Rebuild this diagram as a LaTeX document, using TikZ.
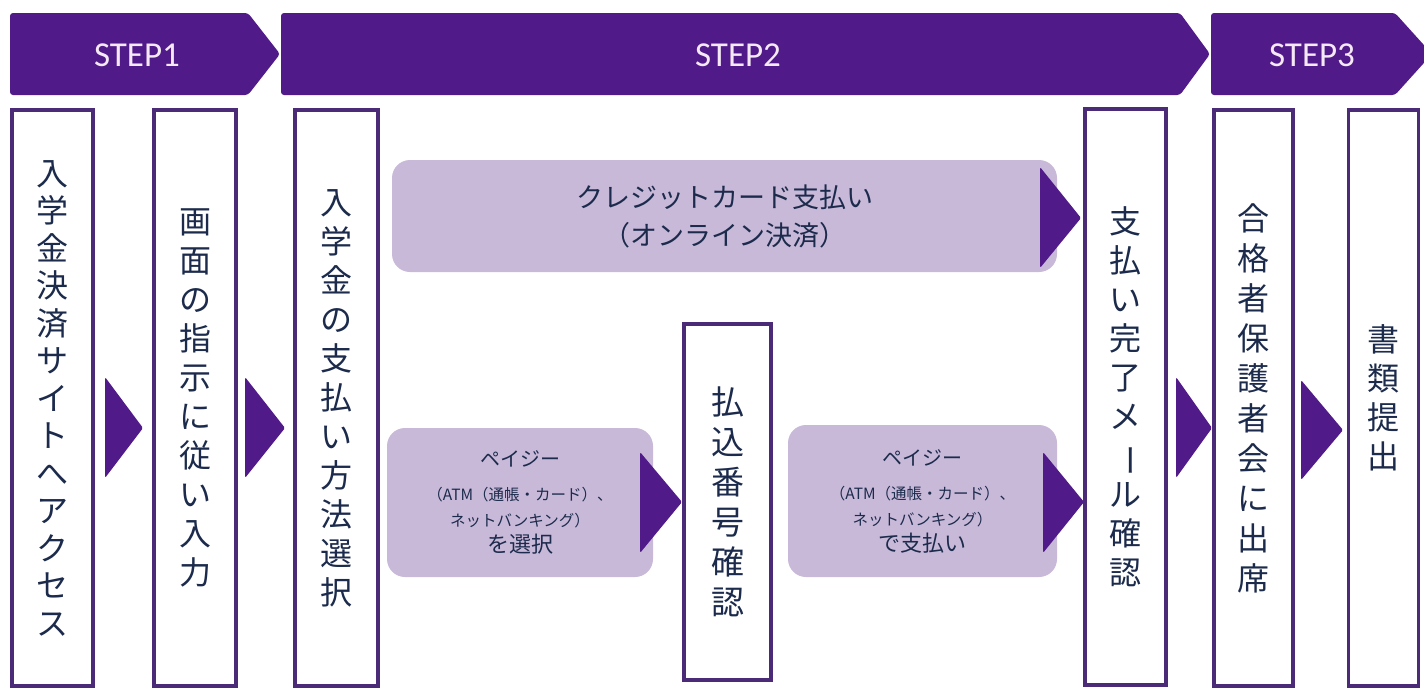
\documentclass[tikz,border=0pt]{standalone}
\usepackage{fontspec}
\usepackage{graphicx}
\setmainfont{Carlito}
\newfontfamily\jpfont{Noto Sans CJK JP}

\definecolor{bandpurple}{HTML}{501A88}
\definecolor{framepurple}{HTML}{4B2A78}
\definecolor{lavender}{HTML}{C9B9D9}
\definecolor{inknavy}{HTML}{1C2B4C}
\definecolor{steptext}{HTML}{F6E9F6}

\newcommand{\longbar}{\rotatebox[origin=c]{-90}{ー}}

\tikzset{
  stepband/.style={fill=bandpurple, rounded corners=3pt},
  steplabel/.style={text=steptext, inner sep=0pt, font=\fontsize{35}{40}\selectfont},
  stagebox/.style={draw=framepurple, line width=3.5pt, fill=white, minimum width=82pt,
    minimum height=576pt, inner sep=0pt, align=center, text=inknavy,
    font=\jpfont\fontsize{32}{39}\selectfont},
  optionbox/.style={fill=lavender, rounded corners=18pt, inner sep=0pt, align=center,
    text=inknavy, font=\jpfont\fontsize{15.5}{26}\selectfont},
  flowmark/.style={fill=bandpurple, rounded corners=1.5pt},
}

\begin{document}
\begin{tikzpicture}[x=1pt, y=-1pt]
  \useasboundingbox (0,0) rectangle (1424,689);
  \fill[white] (0,0) rectangle (1424,689);
  \clip (0,0) rectangle (1424,689);

  % step bands
  \fill[stepband] (10,13) -- (248,13) -- (280,54) -- (248,95) -- (10,95) -- cycle;
  \fill[stepband] (281,13) -- (1180,13) -- (1210,54) -- (1180,95) -- (281,95) -- cycle;
  \fill[stepband] (1211,13) -- (1395,13) -- (1432,54) -- (1395,95) -- (1211,95) -- cycle;
  \node[steplabel] (step1) at (137,55) {STEP1};
  \node[steplabel] (step2) at (738,55) {STEP2};
  \node[steplabel] (step3) at (1312,55) {STEP3};

  % payment options
  \node[optionbox, minimum width=665pt, minimum height=112pt, font=\jpfont\fontsize{27}{38}\selectfont]
    (credit) at (724.5,216) {クレジットカード支払い\\（オンライン決済）};
  \node[optionbox, minimum width=266pt, minimum height=149pt] (payselect) at (520,502.5)
    {{\fontsize{20}{24}\selectfont ペイジー}\\[8pt]（ATM（通帳・カード）、\\ネットバンキング）\\{\fontsize{22}{26}\selectfont を選択}};
  \node[optionbox, minimum width=269pt, minimum height=152pt] (paydone) at (922.5,501)
    {{\fontsize{20}{24}\selectfont ペイジー}\\[8pt]（ATM（通帳・カード）、\\ネットバンキング）\\{\fontsize{22}{26}\selectfont で支払い}};

  \fill[flowmark] (105,377) -- (143,428) -- (105,478) -- cycle;
  \fill[flowmark] (245,377) -- (285,428) -- (245,478) -- cycle;
  \fill[flowmark] (1040,167) -- (1081,218) -- (1040,268) -- cycle;
  \fill[flowmark] (640,452) -- (682,502) -- (640,553) -- cycle;
  \fill[flowmark] (1043,452) -- (1084,502) -- (1043,553) -- cycle;
  \fill[flowmark] (1176,377) -- (1212,428) -- (1176,478) -- cycle;
  \fill[flowmark] (1301,380) -- (1343,430) -- (1301,480) -- cycle;

  % stages
  \node[stagebox, minimum width=81pt, font=\jpfont\fontsize{32}{37.5}\selectfont] (access) at (52.5,398)
    {入\\学\\金\\決\\済\\サ\\イ\\ト\\へ\\ア\\ク\\セ\\ス};
  \node[stagebox] (input) at (195,398) {画\\面\\の\\指\\示\\に\\従\\い\\入\\力};
  \node[stagebox, minimum width=83pt] (method) at (336.5,398) {入\\学\\金\\の\\支\\払\\い\\方\\法\\選\\択};
  \node[stagebox, minimum width=87pt, minimum height=356pt, font=\jpfont\fontsize{33}{40}\selectfont]
    (number) at (727.5,502) {払\\込\\番\\号\\確\\認};
  \node[stagebox, minimum width=81pt] (mailcheck) at (1125.5,397) {支\\払\\い\\完\\了\\メ\\\longbar\\ル\\確\\認};
  \node[stagebox, minimum width=79pt, font=\jpfont\fontsize{32}{40}\selectfont] (meeting) at (1253.5,398)
    {合\\格\\者\\保\\護\\者\\会\\に\\出\\席};
  \node[stagebox, minimum width=70pt] (documents) at (1383.5,398) {書\\類\\提\\出};
\end{tikzpicture}
\end{document}
